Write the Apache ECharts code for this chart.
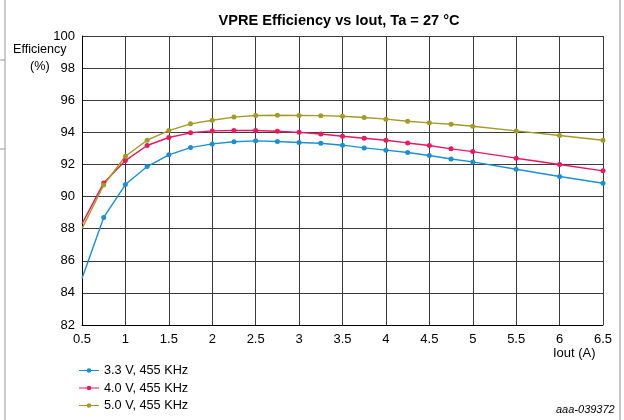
<!DOCTYPE html>
<html>
<head>
<meta charset="utf-8">
<script src="https://cdn.jsdelivr.net/npm/echarts@6/dist/echarts.min.js"></script>
<style>html,body{margin:0;padding:0;background:#fff;}#c{width:624px;height:420px;}</style>
</head>
<body>
<div id="c"></div>
<script>
var xValues = [0.5, 0.75, 1, 1.25, 1.5, 1.75, 2, 2.25, 2.5, 2.75, 3, 3.25, 3.5, 3.75, 4, 4.25, 4.5, 4.75, 5, 5.5, 6, 6.5];
var eff33 = [84.9, 88.7, 90.75, 91.87, 92.6, 93.05, 93.28, 93.41, 93.47, 93.43, 93.37, 93.32, 93.2, 93.03, 92.89, 92.74, 92.56, 92.34, 92.16, 91.7, 91.25, 90.83];
var eff40 = [88.3, 90.85, 92.24, 93.18, 93.68, 93.97, 94.09, 94.11, 94.11, 94.07, 94.0, 93.9, 93.76, 93.63, 93.51, 93.34, 93.18, 92.97, 92.8, 92.39, 92.0, 91.6];
var eff50 = [88.0, 90.72, 92.51, 93.51, 94.11, 94.53, 94.75, 94.95, 95.05, 95.06, 95.05, 95.04, 95.0, 94.92, 94.82, 94.69, 94.59, 94.5, 94.38, 94.09, 93.8, 93.51];
var seriesNames = ['3.3 V, 455 KHz', '4.0 V, 455 KHz', '5.0 V, 455 KHz'];
var seriesColors = ['#1b8fd2', '#e8195c', '#a39a28'];
var titleText = 'VPRE Efficiency vs Iout, Ta = 27 \u00B0C';

function pairs(ys) { return xValues.map(function (x, i) { return [x, ys[i]]; }); }
var allData = [eff33, eff40, eff50];
var font = 'Liberation Sans, Arial, sans-serif';

var chart = echarts.init(document.getElementById('c'), null, {renderer: 'canvas'});
chart.setOption({
  animation: false,
  backgroundColor: '#fff',
  title: {
    text: titleText, left: 334, top: 8, textAlign: 'center',
    textStyle: {fontFamily: font, fontWeight: 'bold', fontSize: 14.6, color: '#000'}
  },
  legend: {
    orient: 'vertical', left: 74, top: 359, itemGap: 4.5, itemWidth: 20, itemHeight: 15,
    data: seriesNames,
    textStyle: {fontFamily: font, fontSize: 12.7, color: '#000'},
    icon: 'path://M0,7 L20,7 L20,8 L0,8 Z M10,5.2 A2.3,2.3 0 1 1 9.99,5.2 Z'
  },
  grid: {left: 82, right: 21, top: 36, bottom: 95, containLabel: false},
  xAxis: {
    type: 'value', min: 0.5, max: 6.5, interval: 0.5,
    axisLine: {show: true, lineStyle: {color: '#000', width: 1}},
    axisTick: {show: false},
    axisLabel: {fontFamily: font, fontSize: 13, color: '#000', margin: 8,
      formatter: function (v) { return String(v); }},
    splitLine: {show: true, lineStyle: {color: '#3a3a3a', width: 1}}
  },
  yAxis: {
    type: 'value', min: 82, max: 100, interval: 2,
    axisLine: {show: true, lineStyle: {color: '#000', width: 1}},
    axisTick: {show: false},
    axisLabel: {fontFamily: font, fontSize: 13, color: '#000', margin: 7},
    splitLine: {show: true, lineStyle: {color: '#3a3a3a', width: 1}}
  },
  graphic: [
    {type: 'text', left: 13, top: 43, style: {text: 'Efficiency', font: '12.6px ' + font, fill: '#000'}},
    {type: 'text', left: 30, top: 60, style: {text: '(%)', font: '12.6px ' + font, fill: '#000'}},
    {type: 'text', left: 553, top: 347, style: {text: 'Iout (A)', font: '13px ' + font, fill: '#000'}},
    {type: 'text', left: 556, top: 404, style: {text: 'aaa-039372', font: 'italic 11px ' + font, fill: '#000'}},
    {type: 'line', shape: {x1: 5, y1: 0, x2: 5, y2: 420}, style: {stroke: '#999', lineWidth: 1}},
    {type: 'line', shape: {x1: 0, y1: 60, x2: 5, y2: 60}, style: {stroke: '#999', lineWidth: 1}},
    {type: 'line', shape: {x1: 0, y1: 149, x2: 5, y2: 149}, style: {stroke: '#999', lineWidth: 1}},
    {type: 'line', shape: {x1: 620, y1: 0, x2: 620, y2: 420}, style: {stroke: '#888', lineWidth: 1}}
  ],
  series: allData.map(function (d, i) {
    return {
      name: seriesNames[i], type: 'line', data: pairs(d),
      color: seriesColors[i],
      lineStyle: {width: 1.4, color: seriesColors[i]},
      itemStyle: {color: seriesColors[i]},
      symbol: 'circle',
      symbolSize: function (val) { return val[0] === xValues[0] ? 0 : 5; },
      showSymbol: true,
      clip: true
    };
  })
});
</script>
</body>
</html>
